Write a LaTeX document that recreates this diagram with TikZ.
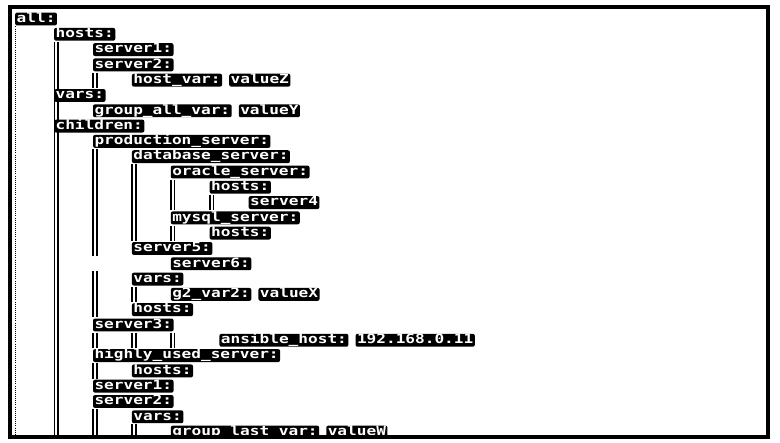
\documentclass[tikz,border=0pt]{standalone}
\usepackage{fontspec}
\usepackage{graphicx}
\usetikzlibrary{positioning}
\newfontfamily\codefont{DejaVu Sans Mono}
\newcommand{\sq}[1]{\scalebox{1}[0.8]{#1}}
\newcommand{\guideseg}[3]{%
  \draw[guide] ({#1+0.5},#2) -- ({#1+0.5},#3);
  \draw[guide] ({#1+4},#2) -- ({#1+4},#3);}
\tikzset{
  keybox/.style={fill=black, text=white, rounded corners=2pt, inner xsep=1.5pt,
    inner ysep=0.2pt, text height=9.5pt, text depth=3pt, anchor=west,
    font=\codefont\bfseries\fontsize{16.1}{16}\selectfont},
  guide/.style={line width=1.7pt, line cap=butt},
  dotguide/.style={line width=0.9pt, dash pattern=on 0.8pt off 1.3pt},
  frame/.style={line width=4pt},
}
\begin{document}
\begin{tikzpicture}[x=1pt,y=-1pt]
\useasboundingbox (0,0) rectangle (780,443);
\fill[white] (0,0) rectangle (780,443);

% dotted level-0 guide
\draw[dotguide] (15.5,26.5) -- (15.5,435);

% level-1 guide
\guideseg{53.9}{41.95}{439}
% level-2 guide
\guideseg{92.8}{72.55}{87.85}
\guideseg{92.8}{149.05}{256.15}
\guideseg{92.8}{271.45}{317.35}
\guideseg{92.8}{332.65}{347.95}
\guideseg{92.8}{363.25}{378.55}
\guideseg{92.8}{409.15}{439}
% level-3 guide
\guideseg{131.7}{164.35}{240.85}
\guideseg{131.7}{286.75}{302.05}
\guideseg{131.7}{332.65}{347.95}
\guideseg{131.7}{424.45}{439}
% level-4 guide
\guideseg{170.6}{179.65}{210.25}
\guideseg{170.6}{225.55}{240.85}
\guideseg{170.6}{332.65}{347.95}
% level-5 guide
\guideseg{209.5}{194.95}{210.25}

% text rows
\node[keybox] (r0)  at (15,19)      {\sq{all:}};
\node[keybox] (r1)  at (53.9,34.3)  {\sq{hosts:}};
\node[keybox] (r2)  at (92.8,49.6)  {\sq{server1:}};
\node[keybox] (r3)  at (92.8,64.9)  {\sq{server2:}};
\node[keybox] (r4)  at (131.7,80.2) {\sq{host\_var:}};
\node[keybox, right=6.7pt of r4] (v4) {\sq{valueZ}};
\node[keybox] (r5)  at (53.9,95.5)  {\sq{vars:}};
\node[keybox] (r6)  at (92.8,110.8) {\sq{group\_all\_var:}};
\node[keybox, right=6.7pt of r6] (v6) {\sq{valueY}};
\node[keybox] (r7)  at (53.9,126.1) {\sq{children:}};
\node[keybox] (r8)  at (92.8,141.4) {\sq{production\_server:}};
\node[keybox] (r9)  at (131.7,156.7) {\sq{database\_server:}};
\node[keybox] (r10) at (170.6,172)  {\sq{oracle\_server:}};
\node[keybox] (r11) at (209.5,187.3) {\sq{hosts:}};
\node[keybox] (r12) at (248.4,202.6) {\sq{server4}};
\node[keybox] (r13) at (170.6,217.9) {\sq{mysql\_server:}};
\node[keybox] (r14) at (209.5,233.2) {\sq{hosts:}};
\node[keybox] (r15) at (131.7,248.5) {\sq{server5:}};
\node[keybox] (r16) at (170.6,263.8) {\sq{server6:}};
\node[keybox] (r17) at (131.7,279.1) {\sq{vars:}};
\node[keybox] (r18) at (170.6,294.4) {\sq{g2\_var2:}};
\node[keybox, right=6.7pt of r18] (v18) {\sq{valueX}};
\node[keybox] (r19) at (131.7,309.7) {\sq{hosts:}};
\node[keybox] (r20) at (92.8,325)   {\sq{server3:}};
\node[keybox] (r21) at (219.2,340.3) {\sq{ansible\_host:}};
\node[keybox, right=6.7pt of r21] (v21) {\sq{192.168.0.11}};
\node[keybox] (r22) at (92.8,355.6) {\sq{highly\_used\_server:}};
\node[keybox] (r23) at (131.7,370.9) {\sq{hosts:}};
\node[keybox] (r24) at (92.8,386.2) {\sq{server1:}};
\node[keybox] (r25) at (92.8,401.5) {\sq{server2:}};
\node[keybox] (r26) at (131.7,416.8) {\sq{vars:}};
\node[keybox] (r27) at (170.6,432.1) {\sq{group\_last\_var:}};
\node[keybox, right=6.7pt of r27] (v27) {\sq{valueW}};

% white outside the frame, then the frame
\fill[white] (0,439) rectangle (780,443);
\draw[frame] (10,7) rectangle (767.5,437);
\end{tikzpicture}
\end{document}
